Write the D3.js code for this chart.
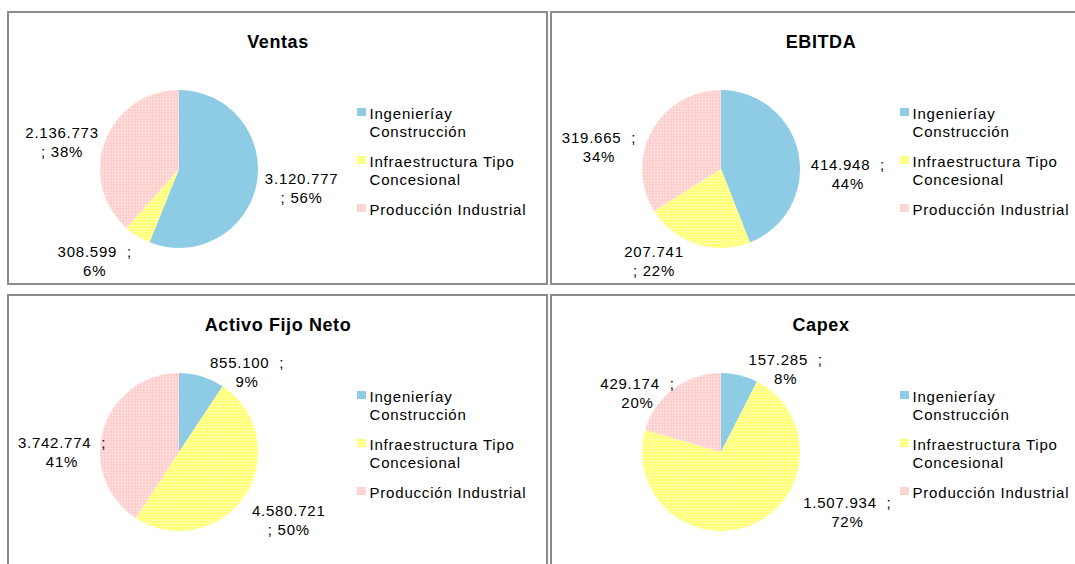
<!DOCTYPE html>
<html>
<head>
<meta charset="utf-8">
<script src="https://cdn.jsdelivr.net/npm/d3@7"></script>
<style>
  body { margin: 0; background: #fff; }
  text { font-family: "Liberation Sans", Arial, sans-serif; fill: #000; }
</style>
</head>
<body>
<script>
// segments, same order in every pie (clockwise from 12 o'clock)
var categories = ["Ingenieríay Construcción", "Infraestructura Tipo Concesional", "Producción Industrial"];
var legendLines = [["Ingenieríay", "Construcción"], ["Infraestructura Tipo", "Concesional"], ["Producción Industrial"]];

var titles = ["Ventas", "EBITDA", "Activo Fijo Neto", "Capex"];

// values per chart
var ventas = [3120777, 308599, 2136773];
var ebitda = [414948, 207741, 319665];
var activo = [855100, 4580721, 3742774];
var capex  = [157285, 1507934, 429174];

// does the ";" stay on the first line of the data label?
var ventasWrap = [false, true, false];
var ebitdaWrap = [true, false, true];
var activoWrap = [true, false, true];
var capexWrap  = [true, true, true];

// label placement (angle clockwise from top in degrees, distance from pie centre)
var ventasLabelAt = [[98.6, 124], [222.4, 125], [282.9, 120]];
var ebitdaLabelAt = [[92.3, 127], [216, 114], [280.2, 124]];
var activoLabelAt = [[40.4, 105], [121.7, 129], [270, 117]];
var capexLabelAt  = [[38, 105], [115.5, 140], [305, 102]];

var charts = [
  {title: titles[0], values: ventas, wrap: ventasWrap, labelAt: ventasLabelAt},
  {title: titles[1], values: ebitda, wrap: ebitdaWrap, labelAt: ebitdaLabelAt},
  {title: titles[2], values: activo, wrap: activoWrap, labelAt: activoLabelAt},
  {title: titles[3], values: capex,  wrap: capexWrap,  labelAt: capexLabelAt}
];

var width = 1075, height = 564;
var radius = 79;

// panel frames
var panels = [
  {x: 8,   y: 12,  w: 539, h: 272},
  {x: 551, y: 12,  w: 540, h: 272},
  {x: 8,   y: 295, w: 539, h: 300},
  {x: 551, y: 295, w: 540, h: 300}
];

var svg = d3.select("body")
  .append("svg")
  .attr("width", width)
  .attr("height", height);

// fine grid fills like the excel pattern fills
var defs = svg.append("defs");
function gridPattern(id, base, line){
  var p = defs.append("pattern")
    .attr("id", id)
    .attr("patternUnits", "userSpaceOnUse")
    .attr("width", 3)
    .attr("height", 3);
  p.append("rect").attr("width", 3).attr("height", 3).attr("fill", base);
  p.append("rect").attr("x", 2).attr("width", 1).attr("height", 3).attr("fill", line);
  p.append("rect").attr("y", 2).attr("width", 3).attr("height", 1).attr("fill", line);
}
gridPattern("patYellow", "#ffff66", "#ffffa6");
gridPattern("patPink", "#ffcccc", "#ffdcdc");

var color = d3.scaleOrdinal()
  .domain(categories)
  .range(["#8ecbe5", "url(#patYellow)", "url(#patPink)"]);

var pie = d3.pie().sort(null).value(function(d){ return d; });
var arc = d3.arc().innerRadius(0).outerRadius(radius);

var numFmt = d3.format(",");
function fmt(v){ return numFmt(v).replace(/,/g, "."); }

charts.forEach(function(c, i){
  var p = panels[i];
  var g = svg.append("g").attr("transform", "translate(" + p.x + "," + p.y + ")");

  g.append("rect")
    .attr("width", p.w)
    .attr("height", p.h)
    .attr("fill", "none")
    .attr("stroke", "#8a8a8a")
    .attr("stroke-width", 2);

  var cx = i % 2 === 0 ? 171 : 170;
  var cy = 157;

  g.append("text")
    .attr("x", 270)
    .attr("y", 36)
    .attr("text-anchor", "middle")
    .style("font-weight", "bold")
    .style("font-size", "18px")
    .style("letter-spacing", "0.6px")
    .text(c.title);

  var pg = g.append("g").attr("transform", "translate(" + cx + "," + cy + ")");
  var arcs = pie(c.values);
  var total = d3.sum(c.values);

  pg.selectAll("path")
    .data(arcs)
    .enter()
    .append("path")
    .attr("d", arc)
    .attr("fill", function(d, j){ return color(categories[j]); });

  // data labels
  var lab = pg.selectAll(".lab")
    .data(arcs)
    .enter()
    .append("text")
    .attr("class", "lab")
    .attr("text-anchor", "middle")
    .style("font-size", "15px")
    .style("letter-spacing", "0.75px")
    .attr("transform", function(d, j){
      var a = c.labelAt[j];
      var pt = d3.pointRadial(a[0] * Math.PI / 180, a[1]);
      return "translate(" + pt[0] + "," + pt[1] + ")";
    });

  lab.each(function(d, j){
    var pct = Math.round(d.value / total * 100) + "%";
    var l1, l2;
    if (c.wrap[j]) { l1 = fmt(d.value) + "\u00a0\u00a0;"; l2 = pct; }
    else { l1 = fmt(d.value); l2 = "; " + pct; }
    var t = d3.select(this);
    t.append("tspan").attr("x", 0).attr("y", -4).text(l1);
    t.append("tspan").attr("x", 0).attr("y", 15).text(l2);
  });

  // legend
  var lx = 349, ly = 96;
  var lg = g.append("g").attr("transform", "translate(" + lx + "," + ly + ")");
  var yOff = 0;
  legendLines.forEach(function(lines, j){
    lg.append("rect")
      .attr("x", 0)
      .attr("y", yOff)
      .attr("width", 9)
      .attr("height", 8)
      .attr("fill", color(categories[j]));
    lines.forEach(function(s, k){
      lg.append("text")
        .attr("x", 12.5)
        .attr("y", yOff + 11 + k * 18)
        .style("font-size", "15px")
        .style("letter-spacing", "0.8px")
        .text(s);
    });
    yOff += lines.length * 18 + 12;
  });
});
</script>
</body>
</html>
